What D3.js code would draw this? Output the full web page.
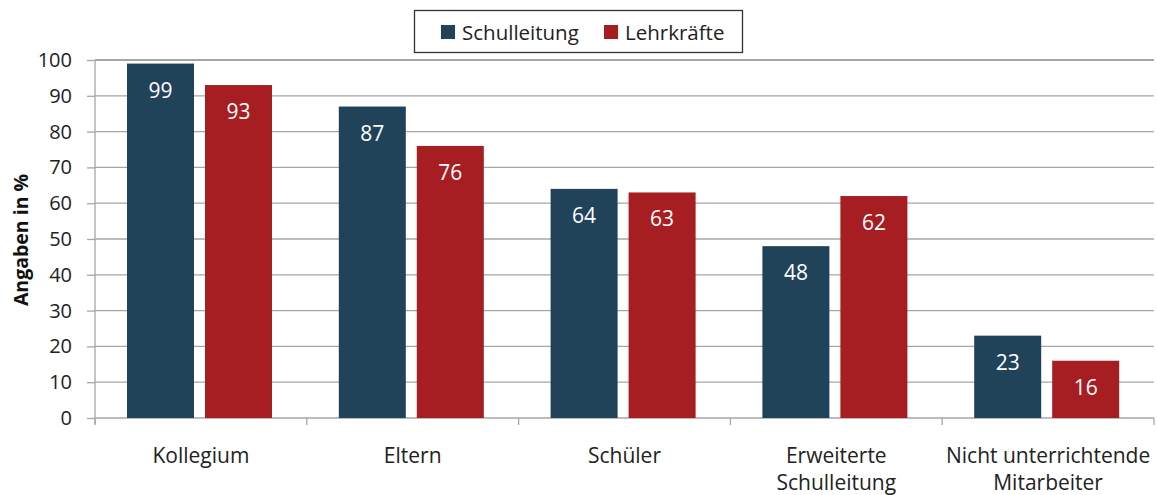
<!DOCTYPE html>
<html><head><meta charset="utf-8">
<script src="https://cdn.jsdelivr.net/npm/d3@7"></script>
<style>body{margin:0;background:#fff}svg{display:block}text{font-family:"Open Sans",sans-serif}</style>
</head><body><svg id="c" width="1157" height="495"></svg>
<script>
const categories = [["Kollegium"],["Eltern"],["Schüler"],["Erweiterte","Schulleitung"],["Nicht unterrichtende","Mitarbeiter"]];
const seriesNames = ["Schulleitung","Lehrkräfte"];
const schulleitung = [99,87,64,48,23];
const lehrkraefte = [93,76,63,62,16];
const yTicks = [0,10,20,30,40,50,60,70,80,90,100];
const colors = ["#21435A","#A61D22"];

const svg = d3.select("#c");
const x0 = d3.scaleBand().domain(d3.range(categories.length)).range([95,1154]).paddingInner(0).paddingOuter(0);
const x1 = d3.scaleBand().domain([0,1]).range([32, 177]).paddingInner(0.141);
const y = d3.scaleLinear().domain([0,100]).range([418,60]);

// gridlines
svg.append("g").selectAll("line").data(yTicks.filter(d=>d>0)).join("line")
  .attr("x1",95).attr("x2",1154).attr("y1",d=>y(d)).attr("y2",d=>y(d))
  .attr("stroke","#a6a6a6").attr("stroke-width",d=>d===100?2:1.3);

// y axis
const ya = svg.append("g").attr("transform","translate(95,0)")
  .call(d3.axisLeft(y).tickValues(yTicks).tickSize(8).tickPadding(15));
ya.select(".domain").attr("stroke","#a6a6a6").attr("stroke-width",1.3).attr("d","M0,"+y(100)+"V"+(y(0)+6));
ya.selectAll(".tick line").attr("stroke","#a6a6a6").attr("stroke-width",1.3);
ya.selectAll(".tick text").attr("font-size",20).attr("fill","#222");

// x axis
const xg = svg.append("g");
xg.append("line").attr("x1",95).attr("x2",1154).attr("y1",y(0)).attr("y2",y(0)).attr("stroke","#a6a6a6").attr("stroke-width",1.3);
xg.selectAll("line.t").data(d3.range(categories.length+1)).join("line").attr("class","t")
  .attr("x1",i=>i<categories.length?x0(i):1154).attr("x2",i=>i<categories.length?x0(i):1154)
  .attr("y1",y(0)).attr("y2",y(0)+7).attr("stroke","#a6a6a6").attr("stroke-width",1.3);
const xl = xg.selectAll("text").data(categories).join("text")
  .attr("x",(d,i)=>x0(i)+x0.bandwidth()/2).attr("y",463).attr("text-anchor","middle")
  .attr("font-size",21).attr("fill","#222");
xl.selectAll("tspan").data(d=>d).join("tspan").attr("x",function(){return this.parentNode.getAttribute("x");})
  .attr("dy",(d,i)=>i===0?0:27).text(d=>d);

// bars
const data = categories.map((c,i)=>[schulleitung[i],lehrkraefte[i]]);
const groups = svg.append("g").selectAll("g").data(data).join("g").attr("transform",(d,i)=>`translate(${x0(i)},0)`);
groups.selectAll("rect").data(d=>d).join("rect")
  .attr("x",(d,j)=>x1(j)).attr("width",x1.bandwidth())
  .attr("y",d=>y(d)).attr("height",d=>y(0)-y(d)).attr("fill",(d,j)=>colors[j]);
groups.selectAll("text").data(d=>d).join("text")
  .attr("x",(d,j)=>x1(j)+x1.bandwidth()/2).attr("y",d=>y(d)+34)
  .attr("text-anchor","middle").attr("font-size",21).attr("fill","#fff").text(d=>d);

// y title
svg.append("text").attr("transform","translate(28,240) rotate(-90)").attr("text-anchor","middle")
  .attr("font-size",19.5).attr("font-weight","bold").attr("fill","#111").text("Angaben in %");

// legend
const lg = svg.append("g");
lg.append("rect").attr("x",414.5).attr("y",10.5).attr("width",328).attr("height",42).attr("fill","#fff").attr("stroke","#333").attr("stroke-width",1.3);
const lx = [441,604];
seriesNames.forEach((s,i)=>{
  lg.append("rect").attr("x",lx[i]).attr("y",25).attr("width",14).attr("height",14).attr("fill",colors[i]);
  lg.append("text").attr("x",lx[i]+21).attr("y",39.5).attr("font-size",20.5).attr("fill","#222").text(s);
});
</script></body></html>
